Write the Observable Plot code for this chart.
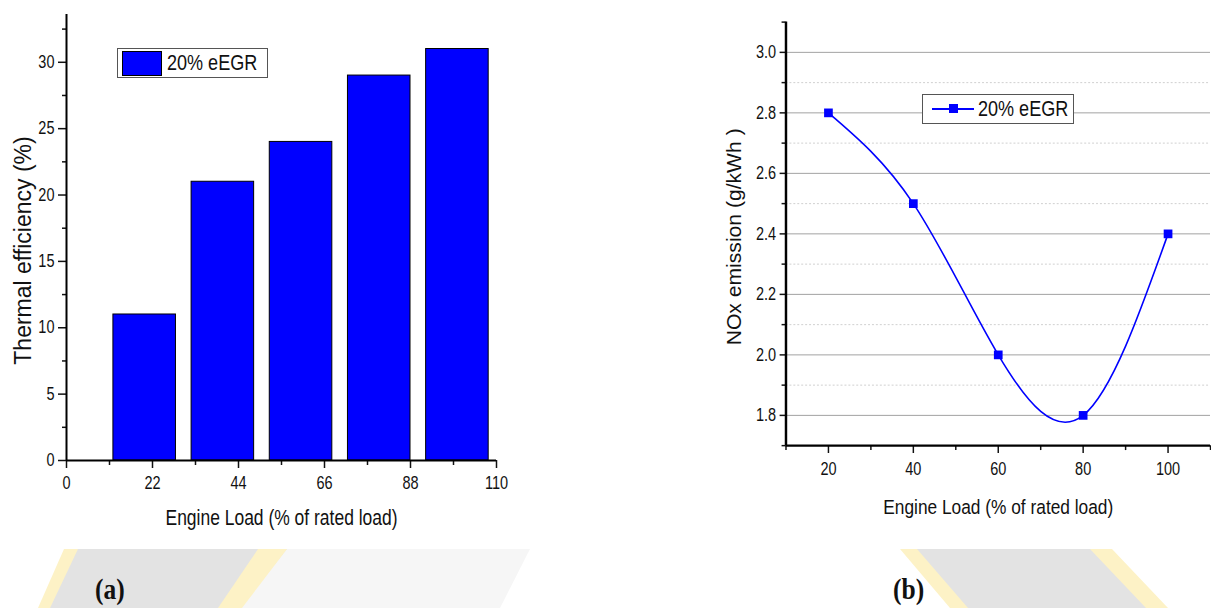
<!DOCTYPE html>
<html>
<head>
<meta charset="utf-8">
<script src="https://cdn.jsdelivr.net/npm/d3@7"></script>
<script src="https://cdn.jsdelivr.net/npm/@observablehq/plot@0.6"></script>
<style>
  html, body { margin: 0; padding: 0; width: 1211px; height: 608px; overflow: hidden; background: #fff; }
  #wrap { position: relative; width: 1211px; height: 608px; }
  .chart { position: absolute; top: 0; }
  .legend { position: absolute; background: #fff; border: 1.5px solid #555; box-sizing: border-box;
            font-family: "Liberation Sans", Arial, sans-serif; font-size: 22px; color: #111; }
  .legend .lt { position: absolute; white-space: nowrap; transform: scaleX(0.82); transform-origin: left center; line-height: 26px; }
  .panel { position: absolute; font-family: "Liberation Serif", "Times New Roman", serif; font-weight: bold;
           font-size: 30px; color: #111; transform: scaleX(0.85); transform-origin: left top; }
  .wm { position: absolute; left: 0; top: 0; width: 1211px; height: 608px; }
</style>
</head>
<body>
<div id="wrap">
  <div class="wm" style="background:#f6f6f6;clip-path:polygon(287px 549px,530px 549px,500px 608px,240px 608px)"></div>
  <div class="wm" style="background:#e3e3e3;clip-path:polygon(74px 549px,287px 549px,240px 608px,43px 608px)"></div>
  <div class="wm" style="background:#fdf2c6;clip-path:polygon(64px 549px,78px 549px,50px 608px,38px 608px)"></div>
  <div class="wm" style="background:#fdf2c6;clip-path:polygon(258px 549px,287px 549px,242px 608px,218px 608px)"></div>
  <div class="wm" style="background:#e3e3e3;clip-path:polygon(912px 549px,1095px 549px,1150px 608px,962px 608px)"></div>
  <div class="wm" style="background:#fdf2c6;clip-path:polygon(900px 549px,917px 549px,968px 608px,950px 608px)"></div>
  <div class="wm" style="background:#fdf2c6;clip-path:polygon(1090px 549px,1112px 549px,1168px 608px,1146px 608px)"></div>
  <div id="a" class="chart" style="left:0px"></div>
  <div id="b" class="chart" style="left:700px"></div>
</div>
<script>
// ---- Panel (a): thermal efficiency bars ----
const loadsA = [20, 40, 60, 80, 100];
const effA = [11, 21, 24, 29, 31];
const xTicksA = [0, 22, 44, 66, 88, 110];
const xMinorA = [11, 33, 55, 77, 99];
const yTicksA = [0, 5, 10, 15, 20, 25, 30];
const yMinorA = [2.5, 7.5, 12.5, 17.5, 22.5, 27.5, 32.5];
const xLabelA = "Engine Load (% of rated load)";
const yLabelA = "Thermal efficiency (%)";

// ---- Panel (b): NOx emission line ----
const loadsB = [20, 40, 60, 80, 100];
const noxB = [2.8, 2.5, 2.0, 1.8, 2.4];
const xTicksB = [20, 40, 60, 80, 100];
const xMinorB = [10, 30, 50, 70, 90, 110];
const yTicksB = [1.8, 2.0, 2.2, 2.4, 2.6, 2.8, 3.0];
const yMinorB = [1.7, 1.9, 2.1, 2.3, 2.5, 2.7, 2.9, 3.1];
const xLabelB = "Engine Load (% of rated load)";
const yLabelB = "NOx emission (g/kWh )";
const seriesName = "20% eEGR";
const panelLabels = ["(a)", "(b)"];

const sans = '"Liberation Sans", Arial, sans-serif';
const blue = "#0000ff";

const dataA = loadsA.map((l, i) => ({load: l, eff: effA[i]}));
const dataB = loadsB.map((l, i) => ({load: l, nox: noxB[i]}));

const chartA = Plot.plot({
  width: 600, height: 540,
  marginLeft: 66, marginRight: 104, marginTop: 14, marginBottom: 80,
  x: {domain: [0, 110]},
  y: {domain: [0, 33.6]},
  style: {fontFamily: sans, fontSize: "17.7px", color: "#111", background: "transparent", overflow: "visible"},
  marks: [
    Plot.rectY(dataA, {x1: d => d.load - 8, x2: d => d.load + 8, y1: 0, y2: "eff", fill: blue, stroke: "#000", strokeWidth: 1}),
    Plot.axisY(yTicksA, {anchor: "left", tickSize: 8, tickPadding: 4, strokeWidth: 1.5, label: null}),
    Plot.axisY(yMinorA, {anchor: "left", tickSize: 4, tickFormat: () => "", strokeWidth: 1.5, label: null}),
    Plot.axisX(xTicksA, {anchor: "bottom", tickSize: 8, tickPadding: 8, strokeWidth: 1.5, label: null}),
    Plot.axisX(xMinorA, {anchor: "bottom", tickSize: 5, tickFormat: () => "", strokeWidth: 1.5, label: null}),
    Plot.ruleX([0], {stroke: "#000", strokeWidth: 2}),
    Plot.ruleY([0], {stroke: "#000", strokeWidth: 2}),
    Plot.text([xLabelA], {frameAnchor: "bottom", dy: 64, text: d => d, fontSize: 21.3, fill: "#111"}),
    Plot.text([yLabelA], {frameAnchor: "left", textAnchor: "middle", dx: -43, dy: 13, rotate: -90, text: d => d, fontSize: 23, fill: "#111"})
  ]
});
document.getElementById("a").append(chartA);

const chartB = Plot.plot({
  width: 520, height: 540,
  marginLeft: 87, marginRight: 1, marginTop: 22, marginBottom: 87,
  x: {domain: [10, 110]},
  y: {domain: [1.7, 3.1]},
  style: {fontFamily: sans, fontSize: "18px", color: "#111", background: "transparent", overflow: "visible"},
  marks: [
    Plot.ruleY(yMinorB.slice(1, -1), {stroke: "#cfcfcf", strokeWidth: 1, strokeDasharray: "2,2"}),
    Plot.ruleY(yTicksB, {stroke: "#a0a0a0", strokeWidth: 1}),
    Plot.line(dataB, {x: "load", y: "nox", curve: "natural", stroke: blue, strokeWidth: 1.6}),
    Plot.dot(dataB, {x: "load", y: "nox", symbol: "square", r: 5, fill: blue}),
    Plot.axisY(yTicksB, {anchor: "left", tickSize: 6, tickPadding: 4, strokeWidth: 1.5, tickFormat: d3.format(".1f"), label: null}),
    Plot.axisY(yMinorB, {anchor: "left", tickSize: 4, tickFormat: () => "", strokeWidth: 1.5, label: null}),
    Plot.axisX(xTicksB, {anchor: "bottom", tickSize: 8, tickPadding: 9, strokeWidth: 1.5, label: null}),
    Plot.axisX(xMinorB, {anchor: "bottom", tickSize: 5, tickFormat: () => "", strokeWidth: 1.5, label: null}),
    Plot.ruleX([10], {stroke: "#000", strokeWidth: 2.5}),
    Plot.ruleY([1.7], {stroke: "#000", strokeWidth: 2.5}),
    Plot.text([xLabelB], {frameAnchor: "bottom", dy: 70, text: d => d, fontSize: 21.5, fill: "#111"}),
    Plot.text([yLabelB], {frameAnchor: "left", textAnchor: "middle", dx: -53, dy: 3, rotate: -90, text: d => d, fontSize: 21.5, fill: "#111"})
  ]
});
document.getElementById("b").append(chartB);

// The original figure is horizontally condensed: squeeze non-rotated text.
for (const svg of [chartA, chartB]) {
  for (const t of svg.querySelectorAll("text")) {
    const tr = t.getAttribute("transform") || "";
    if (tr.includes("rotate")) continue;
    const len = t.getComputedTextLength();
    if (len > 0) {
      t.setAttribute("textLength", (len * 0.82).toFixed(2));
      t.setAttribute("lengthAdjust", "spacingAndGlyphs");
    }
  }
}

// Legends
const wrap = document.getElementById("wrap");
const legA = document.createElement("div");
legA.className = "legend";
Object.assign(legA.style, {left: "117px", top: "48px", width: "151px", height: "30px"});
legA.innerHTML = `<div style="position:absolute;left:4px;top:1.5px;width:40px;height:25px;background:${blue};border:1px solid #000;box-sizing:border-box"></div>
<div class="lt" style="left:49px;top:1px">${seriesName}</div>`;
wrap.append(legA);

const legB = document.createElement("div");
legB.className = "legend";
Object.assign(legB.style, {left: "922px", top: "94px", width: "152px", height: "30px"});
legB.innerHTML = `<div style="position:absolute;left:9px;top:13px;width:42px;height:1.6px;background:${blue}"></div>
<div style="position:absolute;left:26px;top:9px;width:9px;height:9px;background:${blue}"></div>
<div class="lt" style="left:55px;top:1px">${seriesName}</div>`;
wrap.append(legB);

// Panel labels
const panelPos = [[95, 572], [893, 572]];
panelLabels.forEach((s, i) => {
  const p = document.createElement("div");
  p.className = "panel"; p.textContent = s;
  Object.assign(p.style, {left: panelPos[i][0] + "px", top: panelPos[i][1] + "px"});
  wrap.append(p);
});
</script>
</body>
</html>
